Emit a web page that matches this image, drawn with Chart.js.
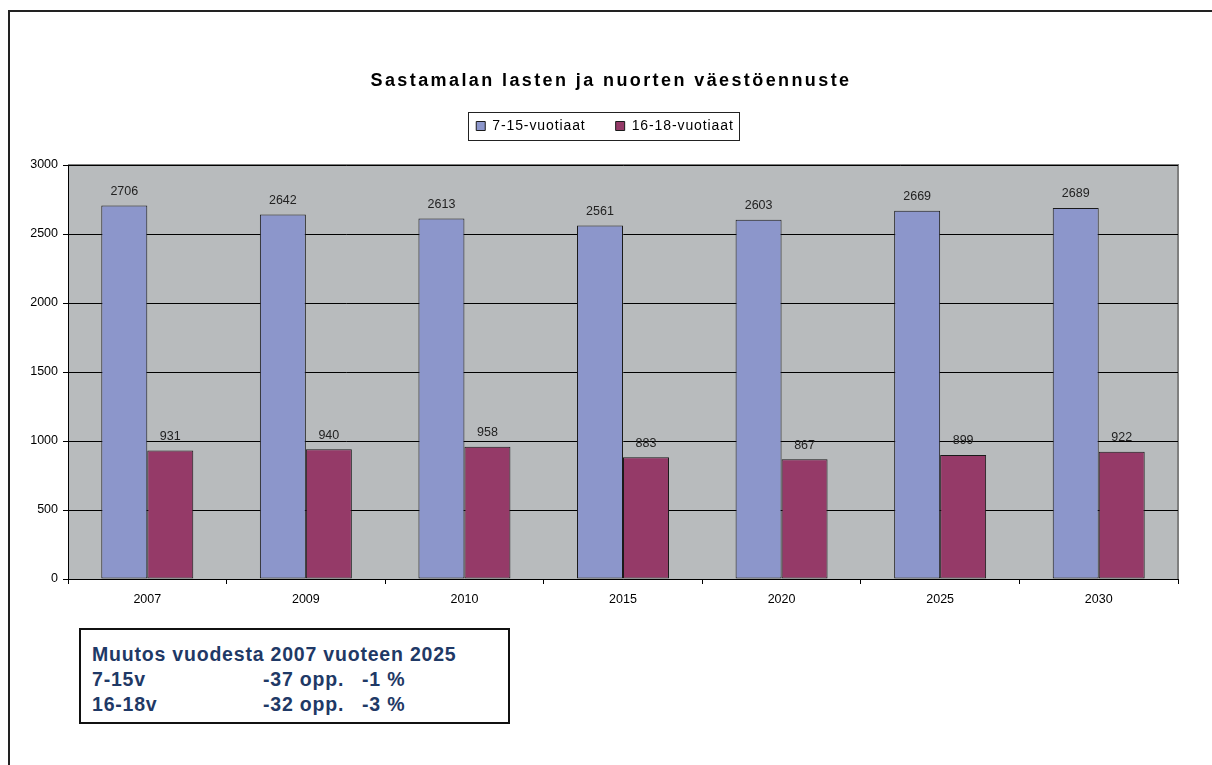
<!DOCTYPE html>
<html>
<head>
<meta charset="utf-8">
<script src="https://cdn.jsdelivr.net/npm/chart.js@4.4.1/dist/chart.umd.min.js"></script>
<style>
  html, body { margin: 0; padding: 0; background: #fff; }
  body { width: 1212px; height: 765px; position: relative; overflow: hidden; font-family: "Liberation Sans", Arial, sans-serif; }
  #frame { position: absolute; left: 8px; top: 10px; width: 1300px; height: 900px; border-left: 2px solid #222; border-top: 2px solid #222; }
  #chartWrap { position: absolute; left: 0; top: 0; width: 1212px; height: 765px; }
  #note {
    position: absolute; left: 79px; top: 628px; width: 427px; height: 92px;
    border: 2px solid #111; background: #fff; color: #1f3966;
    font-weight: bold; font-size: 19.5px; line-height: 25px; letter-spacing: 0.8px;
  }
  #note .row { position: relative; height: 25px; }
  #note .row span { position: absolute; white-space: nowrap; }
</style>
</head>
<body>
<div id="frame"></div>
<div id="chartWrap"><canvas id="chart" width="1212" height="765"></canvas></div>
<div id="note">
  <div style="height: 12px"></div>
</div>

<script>
// Vuodet ja ikäryhmät
const years = ['2007', '2009', '2010', '2015', '2020', '2025', '2030'];
const ages7to15 = [2706, 2642, 2613, 2561, 2603, 2669, 2689];
const ages16to18 = [931, 940, 958, 883, 867, 899, 922];
const seriesNames = ['7-15-vuotiaat', '16-18-vuotiaat'];
const yTicks = [0, 500, 1000, 1500, 2000, 2500, 3000];

const titleText = 'Sastamalan lasten ja nuorten väestöennuste';
const noteHeader = 'Muutos vuodesta 2007 vuoteen 2025';
const noteRows = [
    ['7-15v', '-37 opp.', '-1 %'],
    ['16-18v', '-32 opp.', '-3 %']
];

const FONT = '"Liberation Sans", Arial, sans-serif';

// Tekstilaatikko
const note = document.getElementById('note');
const head = document.createElement('div');
head.className = 'row';
head.innerHTML = `<span style="left:11px">${noteHeader}</span>`;
note.appendChild(head);
noteRows.forEach(r => {
    const row = document.createElement('div');
    row.className = 'row';
    row.innerHTML = `<span style="left:11px">${r[0]}</span><span style="left:182px">${r[1]}</span><span style="left:281px">${r[2]}</span>`;
    note.appendChild(row);
});

// Harmaa piirtoalue + reunat
const plotBackground = {
    id: 'plotBackground',
    beforeDraw(chart) {
        const { ctx, chartArea: a } = chart;
        ctx.save();
        ctx.fillStyle = '#b8bbbd';
        ctx.fillRect(a.left, a.top, a.right - a.left, a.bottom - a.top);
        ctx.strokeStyle = '#7f7f7f';
        ctx.lineWidth = 2;
        ctx.beginPath();
        ctx.moveTo(a.left, a.top);
        ctx.lineTo(a.right, a.top);
        ctx.lineTo(a.right, a.bottom);
        ctx.stroke();
        ctx.restore();
    }
};

// Otsikko (harvennettu kirjainväli)
const spacedTitle = {
    id: 'spacedTitle',
    afterDraw(chart) {
        const { ctx } = chart;
        ctx.save();
        ctx.letterSpacing = '2.4px';
        ctx.font = 'bold 18px ' + FONT;
        ctx.fillStyle = '#000';
        ctx.textAlign = 'center';
        ctx.textBaseline = 'middle';
        ctx.fillText(titleText, 611, 81);
        ctx.restore();
    }
};

// Arvot pylväiden päälle
const valueLabels = {
    id: 'valueLabels',
    afterDatasetsDraw(chart) {
        const { ctx } = chart;
        ctx.save();
        ctx.font = '12.5px ' + FONT;
        ctx.fillStyle = '#222';
        ctx.textAlign = 'center';
        ctx.textBaseline = 'middle';
        chart.data.datasets.forEach((ds, i) => {
            chart.getDatasetMeta(i).data.forEach((bar, j) => {
                ctx.fillText(ds.data[j], bar.x, bar.y - 14);
            });
        });
        ctx.restore();
    }
};

const LEGEND_SHIFT = 12;

// Selitteen kehys
const legendBorder = {
    id: 'legendBorder',
    afterDraw(chart) {
        const boxes = chart.legend.legendHitBoxes;
        if (!boxes || !boxes.length) return;
        const left = Math.min(...boxes.map(b => b.left)) - 8 + LEGEND_SHIFT;
        const right = Math.max(...boxes.map(b => b.left + b.width)) + 5 + LEGEND_SHIFT;
        const cy = boxes[0].top + boxes[0].height / 2;
        const { ctx } = chart;
        ctx.save();
        ctx.strokeStyle = '#222';
        ctx.lineWidth = 1;
        ctx.strokeRect(Math.round(left) + 0.5, Math.round(cy - 14) + 0.5, Math.round(right - left), 28);
        ctx.restore();
    }
};

const chart = new Chart(document.getElementById('chart').getContext('2d'), {
    type: 'bar',
    data: {
        labels: years,
        datasets: [{
            label: seriesNames[0],
            data: ages7to15,
            backgroundColor: '#8c96cb',
            borderColor: '#1a1a1a',
            borderWidth: 1,
            borderSkipped: false,
            categoryPercentage: 0.58,
            barPercentage: 1.0
        }, {
            label: seriesNames[1],
            data: ages16to18,
            backgroundColor: '#953a68',
            borderColor: '#1a1a1a',
            borderWidth: 1,
            borderSkipped: false,
            categoryPercentage: 0.58,
            barPercentage: 1.0
        }]
    },
    options: {
        responsive: false,
        animation: false,
        devicePixelRatio: 1,
        layout: { padding: { left: 8, right: 34, top: 89, bottom: 156 } },
        plugins: {
            title: { display: false },
            legend: {
                display: true,
                position: 'top',
                labels: {
                    color: '#000',
                    font: { family: FONT, size: 14 },
                    boxWidth: 9,
                    boxHeight: 9,
                    padding: 30
                }
            },
            tooltip: { enabled: false }
        },
        scales: {
            x: {
                grid: {
                    offset: true,
                    drawOnChartArea: false,
                    drawTicks: true,
                    tickLength: 5,
                    color: '#000'
                },
                border: { color: '#000', width: 1 },
                ticks: { color: '#000', font: { family: FONT, size: 12.5 }, padding: 8, maxRotation: 0 },
                afterFit(scale) { scale.height = 30; }
            },
            y: {
                min: 0,
                max: 3000,
                afterBuildTicks(scale) { scale.ticks = yTicks.map(v => ({ value: v })); },
                grid: { color: '#000', lineWidth: 1, tickLength: 5 },
                border: { color: '#000', width: 1 },
                ticks: { color: '#000', font: { family: FONT, size: 12.5 }, padding: 5, callback: v => String(v) },
                afterFit(scale) { scale.width = 60; }
            }
        }
    },
    plugins: [plotBackground, valueLabels, legendBorder, spacedTitle]
});

// Selitteen kirjainväli, siirto ja väli piirtoalueeseen
const legend = chart.legend;
const origFit = legend.fit;
const origDraw = legend.draw;
legend.fit = function () {
    this.ctx.save();
    this.ctx.letterSpacing = '0.9px';
    origFit.call(this);
    this.ctx.restore();
    this.height += 22;
};
legend.draw = function () {
    this.ctx.save();
    this.ctx.letterSpacing = '0.9px';
    this.ctx.translate(LEGEND_SHIFT, 0);
    origDraw.call(this);
    this.ctx.restore();
};
chart.update();
</script>
</body>
</html>
